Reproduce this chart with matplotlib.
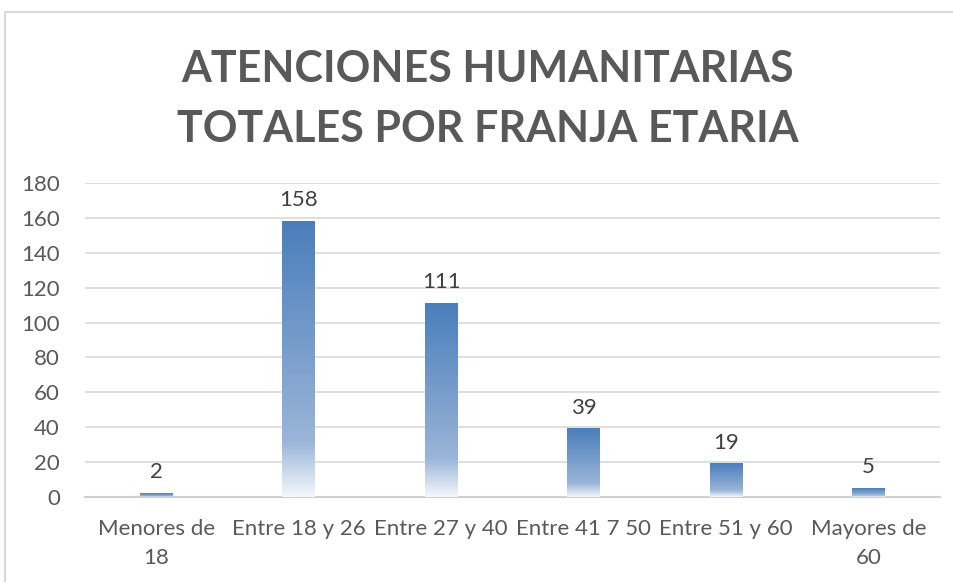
import numpy as np
import matplotlib.pyplot as plt
from matplotlib.colors import LinearSegmentedColormap
from matplotlib.lines import Line2D

plt.rcParams['font.family'] = ['Lato', 'DejaVu Sans']

categories = ["Menores de\n18", "Entre 18 y 26", "Entre 27 y 40",
              "Entre 41 7 50", "Entre 51 y 60", "Mayores de\n60"]
values = [2, 158, 111, 39, 19, 5]
title = "ATENCIONES HUMANITARIAS\nTOTALES POR FRANJA ETARIA"

fig = plt.figure(figsize=(9.54, 5.82), dpi=100)
ax = fig.add_axes([0.089, 0.146, 0.896, 0.5396])

x = np.arange(len(categories))
bars = ax.bar(x, values, width=0.23, color="none", edgecolor="none", zorder=3)

# gradient fill, blue at the top fading to white at the bottom
cmap = LinearSegmentedColormap.from_list(
    "grad", [(0.0, "#f4f7fb"), (0.2, "#9ab5d8"), (1.0, "#4a7ebb")])
grad = np.linspace(0, 1, 256).reshape(-1, 1)
for b in bars:
    x0, w, h = b.get_x(), b.get_width(), b.get_height()
    ax.imshow(grad, cmap=cmap, origin="lower", aspect="auto",
              extent=[x0, x0 + w, 0, h], zorder=3)

for xi, v in zip(x, values):
    ax.annotate(str(v), (xi, v), xytext=(0, 8), textcoords="offset points",
                ha="center", va="bottom", fontsize=16, color="#404040")

ax.set_xlim(-0.5, len(categories) - 0.5)
ax.set_ylim(0, 180)
ax.set_yticks(np.arange(0, 181, 20))
ax.set_xticks(x)
ax.set_xticklabels(categories, fontsize=16, color="#595959", linespacing=1.55)
ax.tick_params(axis="y", labelsize=16, labelcolor="#595959", length=0, pad=18)
ax.tick_params(axis="x", length=0, pad=16)
ax.grid(axis="y", color="#d9d9d9", lw=1.2, zorder=0)
ax.set_axisbelow(True)
for s in ["top", "right", "left"]:
    ax.spines[s].set_visible(False)
ax.spines["bottom"].set_color("#d0d0d0")
ax.spines["bottom"].set_linewidth(1.5)

fig.text(488 / 954, 1 - 99 / 582, title, ha="center", va="center",
         fontsize=31, fontweight="bold", color="#595959", linespacing=1.6)

# chart area border
fig.add_artist(Line2D([5 / 954, 5 / 954, 1], [0, 1 - 12 / 582, 1 - 12 / 582],
                      color="#d9d9d9", lw=1.5))

fig.savefig("out.png", dpi=100)
